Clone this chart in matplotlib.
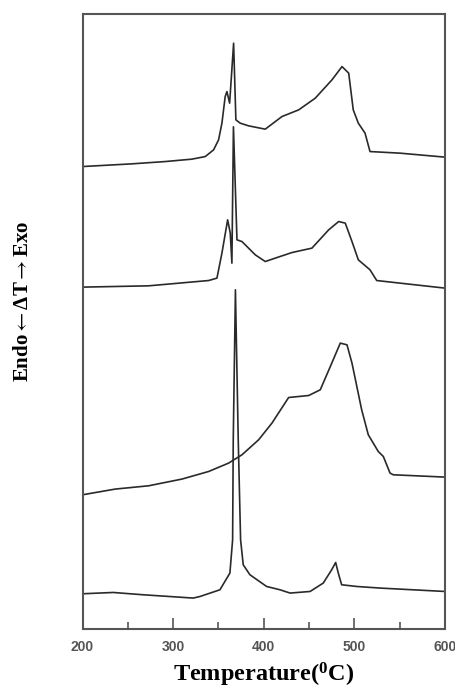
import numpy as np
import matplotlib.pyplot as plt
from matplotlib.ticker import MultipleLocator

plt.rcParams['mathtext.fontset'] = 'stix'

# DTA traces (temperature in C, signal in arbitrary units)
t1 = [200, 254.4, 291.2, 320.7, 335.4, 344.6, 350.1, 353.8, 357.4, 359.3, 362.3, 366.7,
      369.2, 374.0, 383.3, 401.6, 420.0, 438.5, 456.8, 475.2, 486.3, 493.7, 498.7,
      504.3, 511.7, 517.2, 550.3, 600]
y1 = [462.3, 465, 467.3, 469.7, 472.3, 479, 489, 505.7, 532.3, 537.3, 525.7, 585.7,
      509, 505.7, 503, 499.7, 512.3, 519, 530.7, 549, 562.3, 555.7, 519,
      505.7, 495.7, 477.3, 475.7, 471.7]

t2 = [200, 272.9, 339.1, 348.3, 353.8, 360.1, 363.0, 364.8, 366.5, 370.4, 375.9, 390.6,
      401.6, 412.6, 431.1, 453.1, 471.6, 482.6, 489.9, 497.3, 504.3, 517.2, 524.6,
      550.3, 600]
y2 = [341.7, 343, 348.3, 350.7, 375.7, 409, 395.7, 365.7, 502, 389, 387.3, 374,
      367.3, 370.7, 376.3, 380.7, 399, 407.3, 405.7, 387.3, 369, 359, 348.3,
      345.7, 340.7]

t3 = [200, 236.0, 272.9, 309.6, 339.1, 361.2, 375.9, 394.3, 409.0, 427.4, 449.5, 462.3,
      473.4, 484.4, 491.8, 497.3, 508.0, 515.3, 526.3, 531.9, 539.3, 542.9, 600]
y3 = [134, 139.7, 143, 149.7, 157.3, 165.7, 174, 189, 205.7, 231.3, 233.3, 239,
      262.3, 285.7, 284, 265.7, 219, 194, 177.3, 172.3, 155.7, 154, 151.7]

t4 = [200, 233.8, 266.9, 322.1, 329.7, 351.6, 362.6, 365.6, 366.3, 368.7, 371.8, 374.4,
      377.3, 384.7, 403.1, 417.8, 429.0, 451.1, 465.6, 474.9, 479.3, 482.2, 485.9, 502.5,
      528.2, 600]
y4 = [35, 36.3, 34, 30.7, 32.3, 39, 55.7, 89, 189, 339, 189, 89,
      64, 54, 42.3, 39, 35.7, 37.3, 45.7, 59, 66.3, 55.7, 44, 42.3,
      40.7, 37.3]

fig = plt.figure(figsize=(4.56, 6.94), dpi=100)
ax = fig.add_axes([0.181, 0.094, 0.795, 0.886])

for t, y in [(t1, y1), (t2, y2), (t3, y3), (t4, y4)]:
    ax.plot(t, y, color='#2a2a2a', lw=1.2)

ax.set_xlim(200, 600)
ax.set_ylim(0, 615)
ax.set_yticks([])
ax.xaxis.set_major_locator(MultipleLocator(100))
ax.xaxis.set_minor_locator(MultipleLocator(50))
ax.tick_params(axis='x', which='major', direction='in', length=8, width=1.2,
               color='#555555', pad=8, labelsize=10, labelcolor='#555555')
ax.tick_params(axis='x', which='minor', direction='in', length=5, width=1.2,
               color='#555555')
for lab in ax.get_xticklabels():
    lab.set_fontweight('bold')
    lab.set_family('Liberation Sans')
for s in ax.spines.values():
    s.set_color('#555555')
    s.set_linewidth(1.5)

ax.set_xlabel(r'Temperature($\mathregular{^0}$C)', family='Liberation Serif',
              fontweight='bold', fontsize=17.5, labelpad=5)
fig.text(0.05, 1 - 301 / 694, r'Endo$\leftarrow$ΔT$\rightarrow$Exo', rotation=90,
         family=['Liberation Serif', 'DejaVu Serif'], fontweight='bold',
         fontsize=15, ha='center', va='center')

plt.savefig('out.png', dpi=100)
